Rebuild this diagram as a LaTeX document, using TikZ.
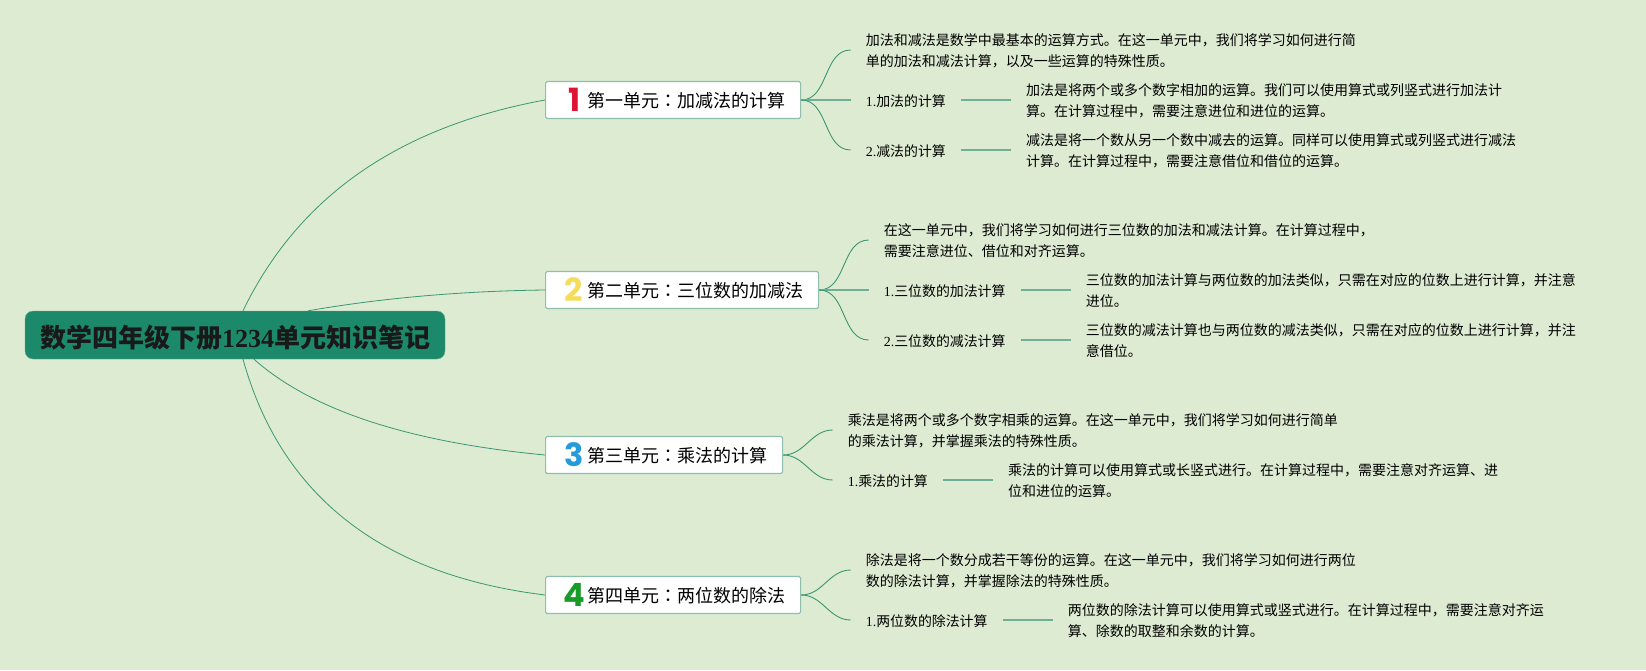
\documentclass[tikz,border=0pt]{standalone}
\usepackage{fontspec}
\usepackage{xcolor}
\usepackage{tikz}
\usetikzlibrary{positioning}
\setmainfont{Noto Sans CJK SC}
\newfontfamily\latinfont{Liberation Serif}
\newfontfamily\numfont{Poppins}
\newfontfamily\colonfont{Noto Sans CJK TC}
\definecolor{pagebox}{RGB}{220,235,210}
\definecolor{rootbox}{RGB}{27,137,106}
\definecolor{rootedge}{RGB}{110,175,145}
\definecolor{unitedge}{RGB}{143,190,172}
\definecolor{branchline}{RGB}{60,150,115}
\definecolor{numred}{RGB}{222,20,50}
\definecolor{numyellow}{RGB}{245,220,90}
\definecolor{numblue}{RGB}{38,155,220}
\definecolor{numgreen}{RGB}{25,155,40}
\newcommand{\unitnum}[2]{\makebox[27pt][c]{\raisebox{-4pt}[0pt][0pt]{\numfont\bfseries\fontsize{32}{32}\selectfont\color{#1}#2}}}
\newcommand{\lat}[1]{{\latinfont #1}}
\newcommand{\unitcolon}{{\colonfont ：}}
\newcommand{\lift}{\rule{0pt}{14pt}}

\begin{document}
\begin{tikzpicture}[
    x=1pt, y=-1pt,
    root/.style={rectangle, draw=rootedge, fill=rootbox, rounded corners=8pt, minimum width=420pt, minimum height=48pt, inner sep=0pt, font=\fontsize{26}{30}\selectfont\bfseries, text=black!90, execute at begin node=\rule{0pt}{27pt}},
    unit/.style={rectangle, draw=unitedge, line width=1.2pt, fill=white, rounded corners=1.5pt, anchor=west, inner xsep=15pt, inner ysep=0pt, minimum height=37pt, text height=17pt, text depth=2pt, font=\fontsize{18}{20}\selectfont},
    intro/.style={align=left, inner xsep=15pt, inner ysep=0pt, font=\fontsize{14}{21}\selectfont},
    sub/.style={inner xsep=15pt, inner ysep=0pt, font=\fontsize{13.9}{21}\selectfont, execute at begin node=\rule{0pt}{14.5pt}},
    detail/.style={align=left, inner xsep=15pt, inner ysep=0pt, font=\fontsize{14}{21}\selectfont},
    branch/.style={draw=branchline, line width=0.8pt},
    twig/.style={draw=branchline, line width=0.9pt},
    stem/.style={draw=branchline!75, line width=1.2pt},
]
    \fill[pagebox] (0,0) rectangle (1646,670);
    \useasboundingbox (0,0) rectangle (1646,670);

    \node[root] (root) at (235,335) {数学四年级下册\lat{1234}单元知识笔记};

    \node[unit] (unit1) at (545,100) {\unitnum{numred}{1}第一单元\unitcolon 加减法的计算};
    \node[unit] (unit2) at (545,290) {\unitnum{numyellow}{2}第二单元\unitcolon 三位数的加减法};
    \node[unit] (unit3) at (545,455) {\unitnum{numblue}{3}第三单元\unitcolon 乘法的计算};
    \node[unit] (unit4) at (545,595) {\unitnum{numgreen}{4}第四单元\unitcolon 两位数的除法};

    \node[intro, right=49.5pt of unit1, yshift=50pt] (intro1) {\lift 加法和减法是数学中最基本的运算方式。在这一单元中，我们将学习如何进行简\\单的加法和减法计算，以及一些运算的特殊性质。};
    \node[sub, right=49.5pt of unit1] (add1) {\lat{1.}加法的计算};
    \node[sub, right=49.5pt of unit1, yshift=-50pt] (sub1) {\lat{2.}减法的计算};
    \node[detail, right=50pt of add1] (add1text) {\lift 加法是将两个或多个数字相加的运算。我们可以使用算式或列竖式进行加法计\\算。在计算过程中，需要注意进位和进位的运算。};
    \node[detail, right=50pt of sub1] (sub1text) {\lift 减法是将一个数从另一个数中减去的运算。同样可以使用算式或列竖式进行减法\\计算。在计算过程中，需要注意借位和借位的运算。};

    \node[intro, right=49.5pt of unit2, yshift=50pt] (intro2) {\lift 在这一单元中，我们将学习如何进行三位数的加法和减法计算。在计算过程中，\\需要注意进位、借位和对齐运算。};
    \node[sub, right=49.5pt of unit2] (add2) {\lat{1.}三位数的加法计算};
    \node[sub, right=49.5pt of unit2, yshift=-50pt] (sub2) {\lat{2.}三位数的减法计算};
    \node[detail, right=50pt of add2] (add2text) {\lift 三位数的加法计算与两位数的加法类似，只需在对应的位数上进行计算，并注意\\进位。};
    \node[detail, right=50pt of sub2] (sub2text) {\lift 三位数的减法计算也与两位数的减法类似，只需在对应的位数上进行计算，并注\\意借位。};

    \node[intro, right=49.5pt of unit3, yshift=25pt] (intro3) {\lift 乘法是将两个或多个数字相乘的运算。在这一单元中，我们将学习如何进行简单\\的乘法计算，并掌握乘法的特殊性质。};
    \node[sub, right=49.5pt of unit3, yshift=-25pt] (mul3) {\lat{1.}乘法的计算};
    \node[detail, right=50pt of mul3] (mul3text) {\lift 乘法的计算可以使用算式或长竖式进行。在计算过程中，需要注意对齐运算、进\\位和进位的运算。};

    \node[intro, right=49.5pt of unit4, yshift=25pt] (intro4) {\lift 除法是将一个数分成若干等份的运算。在这一单元中，我们将学习如何进行两位\\数的除法计算，并掌握除法的特殊性质。};
    \node[sub, right=49.5pt of unit4, yshift=-25pt] (div4) {\lat{1.}两位数的除法计算};
    \node[detail, right=50pt of div4] (div4text) {\lift 两位数的除法计算可以使用算式或竖式进行。在计算过程中，需要注意对齐运\\算、除数的取整和余数的计算。};

    \draw[branch] ([xshift=8pt]root.north) .. controls (298,197) and (398,127) .. (unit1.west);
    \draw[branch] ([xshift=73pt]root.north) .. controls (382,298) and (462,291) .. (unit2.west);
    \draw[branch] ([xshift=19pt]root.south) .. controls (311,410) and (408,442) .. (unit3.west);
    \draw[branch] ([xshift=8pt]root.south) .. controls (281,496) and (382,575) .. (unit4.west);

    \draw[twig] (unit1.east) to[out=0, in=180] (intro1.west);
    \draw[stem] (unit1.east) -- (add1.west);
    \draw[twig] (unit1.east) to[out=0, in=180] (sub1.west);
    \draw[stem] (add1) -- (add1text);
    \draw[stem] (sub1) -- (sub1text);

    \draw[twig] (unit2.east) to[out=0, in=180] (intro2.west);
    \draw[stem] (unit2.east) -- (add2.west);
    \draw[twig] (unit2.east) to[out=0, in=180] (sub2.west);
    \draw[stem] (add2) -- (add2text);
    \draw[stem] (sub2) -- (sub2text);

    \draw[twig] (unit3.east) to[out=0, in=180] (intro3.west);
    \draw[twig] (unit3.east) to[out=0, in=180] (mul3.west);
    \draw[stem] (mul3) -- (mul3text);

    \draw[twig] (unit4.east) to[out=0, in=180] (intro4.west);
    \draw[twig] (unit4.east) to[out=0, in=180] (div4.west);
    \draw[stem] (div4) -- (div4text);
\end{tikzpicture}
\end{document}
